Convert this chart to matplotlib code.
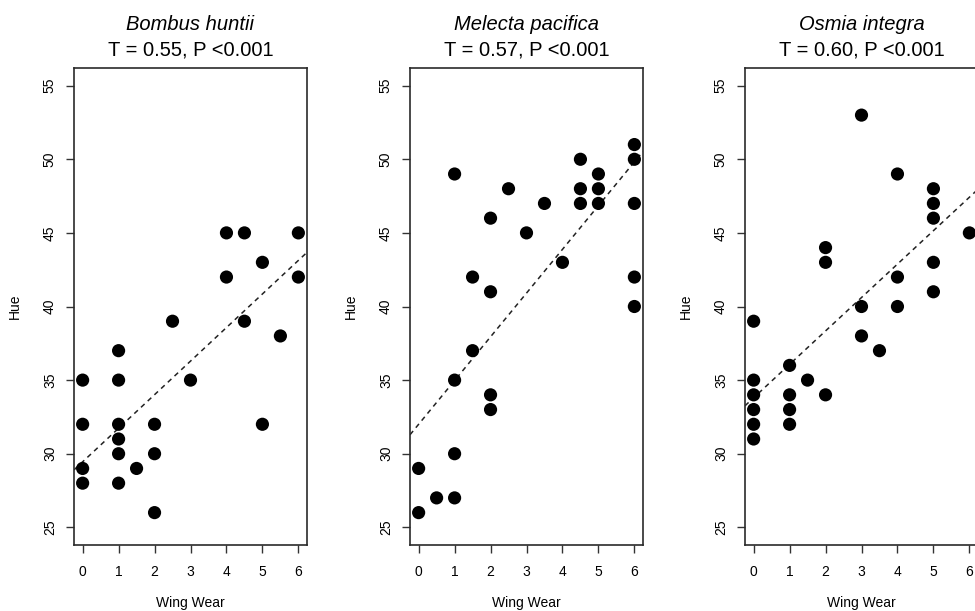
import matplotlib
matplotlib.use("Agg")
import matplotlib.pyplot as plt

plt.rcParams['font.family'] = ['Liberation Sans', 'DejaVu Sans']

species = ["Bombus huntii", "Melecta pacifica", "Osmia integra"]
stats = ["T = 0.55, P <0.001", "T = 0.57, P <0.001", "T = 0.60, P <0.001"]

bombus_wear = [0, 0, 0, 0, 1, 1, 1, 1, 1, 1, 1.5, 2, 2, 2, 2.5, 3, 4, 4, 4.5, 4.5, 5, 5, 5.5, 6, 6]
bombus_hue = [35, 32, 29, 28, 37, 35, 32, 31, 30, 28, 29, 32, 30, 26, 39, 35, 45, 42, 45, 39, 43, 32, 38, 45, 42]

melecta_wear = [0, 0, 0.5, 1, 1, 1, 1, 1.5, 1.5, 2, 2, 2, 2, 2.5, 3, 3.5, 4, 4.5, 4.5, 4.5, 5, 5, 5, 6, 6, 6, 6, 6]
melecta_hue = [29, 26, 27, 49, 35, 30, 27, 42, 37, 46, 41, 34, 33, 48, 45, 47, 43, 50, 48, 47, 49, 48, 47, 51, 50, 47, 42, 40]

osmia_wear = [0, 0, 0, 0, 0, 0, 1, 1, 1, 1, 1.5, 2, 2, 2, 3, 3, 3, 3.5, 4, 4, 4, 5, 5, 5, 5, 5, 6]
osmia_hue = [39, 35, 34, 33, 32, 31, 36, 34, 33, 32, 35, 44, 43, 34, 53, 40, 38, 37, 49, 42, 40, 48, 47, 46, 43, 41, 45]

# fitted trend lines (intercept, slope)
fit_intercepts = [29.45, 32.0, 33.8]
fit_slopes = [2.28, 2.97, 2.27]

x_ticks = [0, 1, 2, 3, 4, 5, 6]
y_ticks = [25, 30, 35, 40, 45, 50, 55]

datasets = [(bombus_wear, bombus_hue), (melecta_wear, melecta_hue), (osmia_wear, osmia_hue)]

W, H = 975, 611
fig = plt.figure(figsize=(W / 100, H / 100), dpi=100)

lefts_px = [74, 410, 745]
width_px = 233
top_px, bottom_px = 68, 545
h_px = bottom_px - top_px

for i, (xs, ys) in enumerate(datasets):
    ax = fig.add_axes([lefts_px[i] / W, (H - bottom_px) / H, width_px / W, h_px / H])
    ax.axline((0, fit_intercepts[i]), slope=fit_slopes[i], color='#222222',
              lw=1.1, linestyle=(0, (3.2, 2.8)), zorder=2)
    ax.scatter(xs, ys, s=90, color='black', edgecolors='none', zorder=3)
    ax.set_xlim(-0.24, 6.24)
    ax.set_ylim(23.8, 56.2)
    ax.set_xticks(x_ticks)
    ax.set_yticks(y_ticks)
    ax.set_xticklabels([str(t) for t in x_ticks])
    ax.set_yticklabels([str(t) for t in y_ticks], rotation=90, va='center')
    ax.tick_params(axis='both', direction='out', length=5.8, width=1.0,
                   color='#333333', labelsize=10, labelcolor='black')
    ax.tick_params(axis='x', pad=8.5)
    ax.tick_params(axis='y', pad=6.5)
    for sp in ax.spines.values():
        sp.set_color('#2a2a2a')
        sp.set_linewidth(1.2)
    ax.set_xlabel("Wing Wear", fontsize=10)
    ax.set_ylabel("Hue", fontsize=10)
    ax.xaxis.set_label_coords(0.5, -58 / h_px)
    ax.xaxis.label.set_va('center')
    ax.yaxis.set_label_coords(-59 / width_px, 0.5)
    ax.yaxis.label.set_va('center')
    ax.text(0.5, 1 + (top_px - 24) / h_px, species[i], transform=ax.transAxes,
            ha='center', va='center', fontsize=14.5, style='italic')
    ax.text(0.5, 1 + (top_px - 49.5) / h_px, stats[i], transform=ax.transAxes,
            ha='center', va='center', fontsize=14.5)

fig.savefig("out.png", dpi=100)
